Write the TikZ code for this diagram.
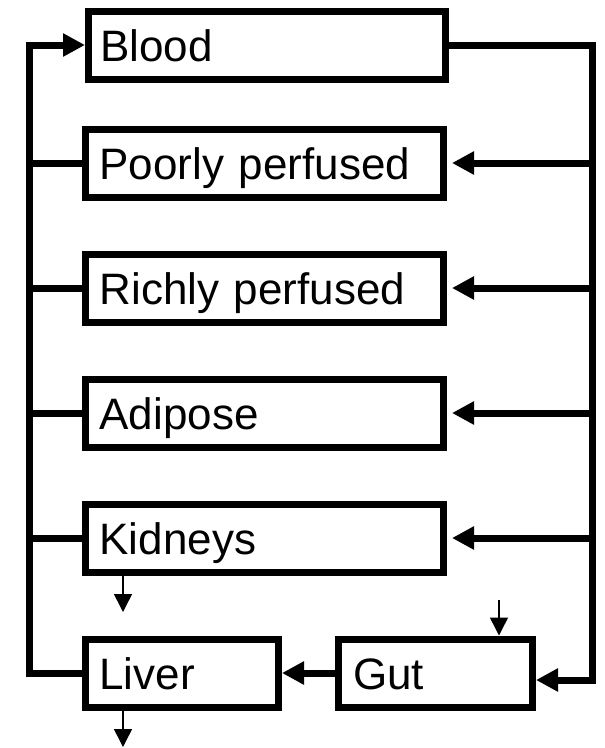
\documentclass[tikz,border=0pt]{standalone}
\usepackage{fontspec}
\setmainfont{Liberation Sans}
\usetikzlibrary{arrows.meta, math}

\tikzset{
organ/.style={draw, line width=7pt, anchor=west, minimum height=68pt,
  inner xsep=14pt, align=left, text height=32pt, text depth=0pt,
  font=\fontsize{44pt}{50pt}\selectfont},
flow/.style={line width=7pt},
bigtip/.style={-{Triangle[length=22pt,width=22pt]}},
excr/.style={line width=1.5pt, -{Triangle[length=18pt,width=18pt]}}
}

\begin{document}
\begin{tikzpicture}[x=1pt,y=-1pt]
\tikzmath{
\xl=29;
\xr=592;
}
\useasboundingbox (0,0) rectangle (605,748);

\node[organ, inner xsep=11.5pt, text width=334pt] (blood) at (85,45) {Blood};

\foreach \nm/\txt/\yc in {poorly/Poorly perfused/163, richly/Richly perfused/288,
  adipose/Adipose/413, kidneys/Kidneys/538}{
\node[organ, text width=330pt] (\nm) at (82,\yc) {\txt};
}

\node[organ, text width=165pt] (liver) at (82,673) {Liver};
\node[organ, inner xsep=14.5pt, text width=165pt] (gut) at (335,673) {Gut};

\coordinate (ltop) at (\xl,45);
\coordinate (lbot) at (\xl,673);
\coordinate (rtop) at (\xr,45);
\coordinate (rbot) at (\xr,680);

% venous return
\draw[flow,bigtip] (liver.west) -- (lbot) -- (ltop) -- (blood.west);
% arterial supply
\draw[flow,bigtip] (blood.east) -- (rtop) -- (rbot) -- (rbot -| gut.east);

\foreach \nm in {poorly,richly,adipose,kidneys}{
\draw[flow] (\nm.west) -- (\nm.west -| ltop);
\draw[flow,bigtip,shorten >=5pt] (\nm.east -| rtop) -- (\nm.east);
}

\draw[flow,bigtip] (gut.west) -- (liver.east);

\coordinate (kidout) at (123,612);
\coordinate (livout) at (123,747);
\coordinate (gutin) at (499,600);
\draw[excr] (kidneys.south -| kidout) -- (kidout);
\draw[excr] (liver.south -| livout) -- (livout);
\draw[excr] (gutin) -- (gutin |- gut.north);

\end{tikzpicture}
\end{document}
